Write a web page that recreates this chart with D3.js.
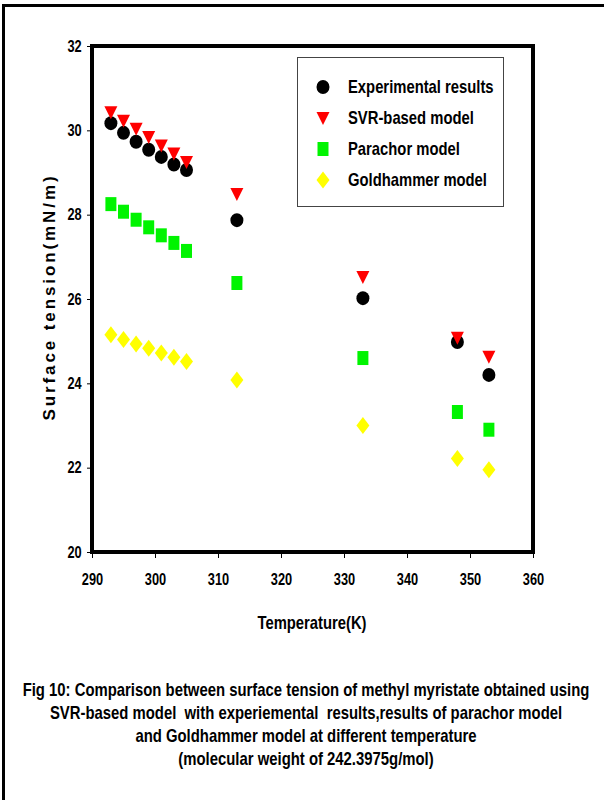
<!DOCTYPE html>
<html>
<head>
<meta charset="utf-8">
<script src="https://cdn.jsdelivr.net/npm/d3@7"></script>
<style>
  body { margin: 0; background: #fff; }
  text { font-family: "Liberation Sans", Arial, sans-serif; font-weight: bold; white-space: pre; }
</style>
</head>
<body>
<div id="chart"></div>
<script>
// Data arrays
let temps = [293, 295, 297, 299, 301, 303, 305, 313, 333, 348, 353];
let experimental = [30.17, 29.94, 29.73, 29.54, 29.37, 29.19, 29.06, 27.87, 26.02, 24.98, 24.20];
let svrModel = [30.43, 30.23, 30.04, 29.84, 29.64, 29.45, 29.25, 28.49, 26.52, 25.08, 24.63];
let parachor = [28.25, 28.07, 27.88, 27.70, 27.51, 27.33, 27.14, 26.38, 24.60, 23.32, 22.90];
let goldhammer = [25.15, 25.04, 24.93, 24.83, 24.72, 24.62, 24.52, 24.08, 23.00, 22.22, 21.95];
let seriesNames = ["Experimental results", "SVR-based model", "Parachor model", "Goldhammer model"];
let xTicks = [290, 300, 310, 320, 330, 340, 350, 360];
let yTicks = [20, 22, 24, 26, 28, 30, 32];
let captionLines = [
  "Fig 10: Comparison between surface tension of methyl myristate obtained using",
  "SVR-based model  with experiemental  results,results of parachor model",
  "and Goldhammer model at different temperature",
  "(molecular weight of 242.3975g/mol)"
];

// narrow bold look: squeeze text horizontally
let narrow = 0.8;

let svg = d3.select("#chart")
  .append("svg")
  .attr("width", 604)
  .attr("height", 800);

// outer frame (top and left edges)
svg.append("path")
  .attr("d", "M3.5,800 V5.5 H604")
  .attr("fill", "none")
  .attr("stroke", "#000")
  .attr("stroke-width", 3);

let x = d3.scaleLinear().domain([290, 360]).range([92, 533]);
let y = d3.scaleLinear().domain([20, 32]).range([552, 46]);

// axes
svg.append("g")
  .attr("transform", "translate(0,552)")
  .call(d3.axisBottom(x).tickValues(xTicks).tickSize(6).tickPadding(16))
  .call(styleAxis);

svg.append("g")
  .attr("transform", "translate(92,0)")
  .call(d3.axisLeft(y).tickValues(yTicks).tickSize(5).tickPadding(8))
  .call(styleAxis);

function styleAxis(g) {
  g.select(".domain").remove();
  g.selectAll(".tick line").attr("stroke", "#000").attr("stroke-width", 1);
  g.selectAll(".tick text")
    .attr("font-size", 16)
    .attr("fill", "#000")
    .attr("transform", "scale(" + narrow + ",1)");
}

// plot frame
svg.append("rect")
  .attr("x", 92)
  .attr("y", 46)
  .attr("width", 441)
  .attr("height", 506)
  .attr("fill", "none")
  .attr("stroke", "#000")
  .attr("stroke-width", 4);

// marker shapes
function circle(cx, cy) {
  return "M" + (cx - 6.5) + "," + cy + " a6.5,7 0 1,0 13,0 a6.5,7 0 1,0 -13,0Z";
}
function triangle(cx, cy) {
  return "M" + (cx - 6.5) + "," + (cy - 6) + " L" + (cx + 6.5) + "," + (cy - 6) + " L" + cx + "," + (cy + 7) + "Z";
}
function square(cx, cy) {
  return "M" + (cx - 5.5) + "," + (cy - 7) + " h11 v14 h-11Z";
}
function diamond(cx, cy) {
  return "M" + cx + "," + (cy - 8.5) + " L" + (cx + 6.5) + "," + cy + " L" + cx + "," + (cy + 8.5) + " L" + (cx - 6.5) + "," + cy + "Z";
}

let series = [
  { values: experimental, shape: circle, color: "#000000" },
  { values: svrModel, shape: triangle, color: "#ff0000" },
  { values: parachor, shape: square, color: "#00f400" },
  { values: goldhammer, shape: diamond, color: "#ffff00" }
];

// draw in order so red sits over black as in the figure
[series[3], series[2], series[0], series[1]].forEach(function(s) {
  svg.append("g")
    .selectAll("path")
    .data(temps)
    .enter()
    .append("path")
    .attr("d", function(t, i) { return s.shape(x(t), y(s.values[i])); })
    .attr("fill", s.color);
});

// helper for squeezed text at a point
function narrowText(parent, tx, ty, size, str, anchor) {
  return parent.append("text")
    .attr("transform", "translate(" + tx + "," + ty + ") scale(" + narrow + ",1)")
    .attr("text-anchor", anchor || "start")
    .attr("font-size", size)
    .attr("fill", "#000")
    .text(str);
}

// legend
let legend = svg.append("g");
legend.append("rect")
  .attr("x", 297.5)
  .attr("y", 57.5)
  .attr("width", 206)
  .attr("height", 149)
  .attr("fill", "#fff")
  .attr("stroke", "#444")
  .attr("stroke-width", 1);

seriesNames.forEach(function(name, i) {
  let ly = 87 + i * 31;
  legend.append("path")
    .attr("d", series[i].shape(323, ly))
    .attr("fill", series[i].color);
  narrowText(legend, 348, ly + 6, 18.5, name);
});

// axis titles
narrowText(svg, 312, 629, 18.5, "Temperature(K)", "middle");

svg.append("text")
  .attr("transform", "translate(55,297) rotate(-90)")
  .attr("text-anchor", "middle")
  .attr("font-size", 17)
  .attr("letter-spacing", 2.9)
  .text("Surface tension(mN/m)");

// caption
captionLines.forEach(function(line, i) {
  narrowText(svg, 306, 696 + i * 23, 18.6, line, "middle");
});
</script>
</body>
</html>
